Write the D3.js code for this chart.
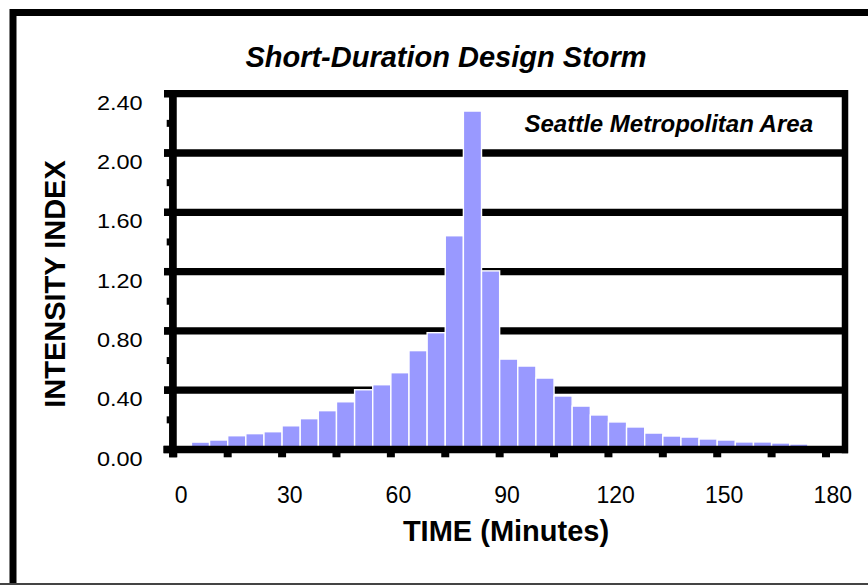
<!DOCTYPE html>
<html><head><meta charset="utf-8">
<script src="https://cdn.jsdelivr.net/npm/d3@7"></script>
<style>
html,body{margin:0;padding:0;background:#fff;}
svg{display:block;font-family:"Liberation Sans",Arial,sans-serif;}
</style></head><body>
<svg id="chart" width="868" height="585"></svg>
<script>
// ---- data ----
const minutes = [0,5,10,15,20,25,30,35,40,45,50,55,60,65,70,75,80,85,90,95,100,105,110,115,120,125,130,135,140,145,150,155,160,165,170,175];
const intensity = [0,0.050,0.064,0.093,0.107,0.120,0.160,0.208,0.262,0.322,0.403,0.437,0.518,0.667,0.788,1.442,2.283,1.205,0.610,0.563,0.482,0.361,0.293,0.233,0.186,0.152,0.111,0.091,0.084,0.071,0.064,0.051,0.051,0.044,0.037,0];
const yTicks = [0,0.4,0.8,1.2,1.6,2.0,2.4];
const yMinorTicks = [0.2,0.6,1.0,1.4,1.8,2.2];
const xTickMarks = [0,15,30,45,60,75,90,105,120,135,150,165,180];
const xTickLabels = [0,30,60,90,120,150,180];
const titleText = "Short-Duration Design Storm";
const subtitleText = "Seattle Metropolitan Area";
const xTitleText = "TIME (Minutes)";
const yTitleText = "INTENSITY INDEX";
const binWidth = 5;

// ---- scales ----
const x = d3.scaleLinear().domain([0,180]).range([173.3, 826]);
const xLab = d3.scaleLinear().domain([0,180]).range([180.7, 832.3]);
const y = d3.scaleLinear().domain([0,2.4]).range([449.5, 93.7]);

const svg = d3.select("#chart");
svg.append("rect").attr("width",868).attr("height",585).attr("fill","#fff");

// outer frame
svg.append("path").attr("d","M13,585 V12.5 H868").attr("fill","none").attr("stroke","#000").attr("stroke-width",7);
svg.append("line").attr("x1",0).attr("x2",868).attr("y1",584).attr("y2",584).attr("stroke","#444").attr("stroke-width",2);

const plotL = 164, plotR = 848;

// gridlines (behind bars)
svg.append("g").selectAll("line").data(yTicks.filter(d=>d>0 && d<2.4)).join("line")
  .attr("x1",plotL).attr("x2",x(180)+16).attr("y1",d=>y(d)).attr("y2",d=>y(d))
  .attr("stroke","#000").attr("stroke-width",7.3);

// bars
svg.append("g").selectAll("rect").data(minutes.map((m,i)=>({m,v:intensity[i]})).filter(d=>d.v>0)).join("rect")
  .attr("x",d=>x(d.m)).attr("width",d=>x(d.m+binWidth)-x(d.m))
  .attr("y",d=>y(d.v)).attr("height",d=>y(0)-y(d.v))
  .attr("fill","#9999ff").attr("stroke","#fff").attr("stroke-width",1.4);

// top border (2.40 gridline)
svg.append("line").attr("x1",plotL).attr("x2",plotR).attr("y1",y(2.4)).attr("y2",y(2.4)).attr("stroke","#000").attr("stroke-width",7.3);
// right border
svg.append("line").attr("x1",845).attr("x2",845).attr("y1",y(2.4)-3.6).attr("y2",y(0)+3.8).attr("stroke","#000").attr("stroke-width",6.5);
// x axis line
svg.append("line").attr("x1",plotL-0.7).attr("x2",plotR).attr("y1",y(0)).attr("y2",y(0)).attr("stroke","#000").attr("stroke-width",7.6);
// left axis line
svg.append("line").attr("x1",x(0)-0.4).attr("x2",x(0)-0.4).attr("y1",y(2.4)-3.6).attr("y2",457.3).attr("stroke","#000").attr("stroke-width",7.7);
// left major tick stubs
svg.append("g").selectAll("line").data(yTicks).join("line")
  .attr("x1",plotL).attr("x2",x(0)).attr("y1",d=>y(d)).attr("y2",d=>y(d))
  .attr("stroke","#000").attr("stroke-width",7.3);
// left minor ticks
svg.append("g").selectAll("line").data(yMinorTicks).join("line")
  .attr("x1",166.7).attr("x2",x(0)).attr("y1",d=>y(d)).attr("y2",d=>y(d))
  .attr("stroke","#000").attr("stroke-width",7);
// x tick marks
svg.append("g").selectAll("line").data(xTickMarks).join("line")
  .attr("x1",d=>x(d)).attr("x2",d=>x(d)).attr("y1",y(0)).attr("y2",457.3)
  .attr("stroke","#000").attr("stroke-width",8);

// y tick labels
svg.append("g").attr("transform","translate(142.7,0)")
  .call(d3.axisLeft(y).tickValues(yTicks).tickFormat(d3.format(".2f")).tickSize(0).tickPadding(0))
  .call(g=>g.select(".domain").remove())
  .call(g=>g.attr("font-family",null).attr("font-size",null))
  .selectAll("text").attr("x",0).attr("dy",null).attr("y",15.6)
  .attr("font-size",21).attr("fill","#000").attr("transform","scale(1.12,1)");

// x tick labels
svg.append("g").attr("transform","translate(0,503.3)")
  .call(d3.axisBottom(xLab).tickValues(xTickLabels).tickFormat(d3.format("d")).tickSize(0).tickPadding(0))
  .call(g=>g.select(".domain").remove())
  .call(g=>g.attr("font-family",null).attr("font-size",null))
  .selectAll("text").attr("y",0).attr("dy",null).attr("font-size",23).attr("fill","#000");

// titles
svg.append("text").attr("x",446).attr("y",67).attr("text-anchor","middle")
  .attr("font-size",29).attr("font-weight","bold").attr("font-style","italic").text(titleText);
svg.append("text").attr("x",813).attr("y",132).attr("text-anchor","end")
  .attr("font-size",24).attr("font-weight","bold").attr("font-style","italic").text(subtitleText);
svg.append("text").attr("x",506).attr("y",541).attr("text-anchor","middle")
  .attr("font-size",29).attr("font-weight","bold").text(xTitleText);
svg.append("text").attr("transform","translate(65,284) rotate(-90)").attr("text-anchor","middle")
  .attr("font-size",29).attr("font-weight","bold").text(yTitleText);
</script>
</body></html>
